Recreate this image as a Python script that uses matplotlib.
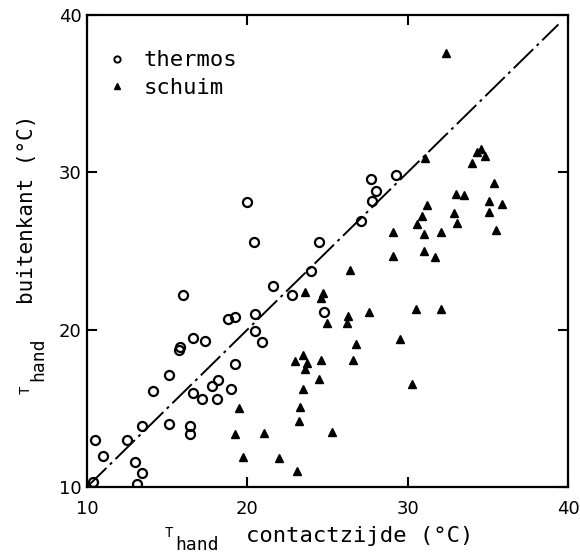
import matplotlib
matplotlib.use("Agg")
import matplotlib.pyplot as plt
from matplotlib.lines import Line2D

# ---- data ----
thermos_x = [10.4, 10.5, 11.0, 12.5, 13.4, 13.0, 13.4, 13.1, 14.1, 15.1, 15.1, 15.75, 15.8,
             16.6, 17.35, 16.6, 17.2, 16.4, 16.4, 17.8, 18.2, 18.1, 19.0, 19.2, 16.0, 18.8,
             19.2, 20.0, 20.4, 20.5, 20.9, 20.5, 21.6, 22.8, 24.0, 24.5, 27.1, 27.7, 28.0,
             27.8, 29.3, 24.8]
thermos_y = [10.3, 13.0, 12.0, 13.0, 13.9, 11.6, 10.9, 10.2, 16.1, 17.1, 14.0, 18.7, 18.9,
             19.5, 19.3, 16.0, 15.6, 13.4, 13.9, 16.4, 16.8, 15.6, 16.2, 17.8, 22.2, 20.7,
             20.8, 28.1, 25.6, 19.9, 19.2, 21.0, 22.8, 22.2, 23.7, 25.6, 26.9, 29.6, 28.8,
             28.2, 29.85, 21.1]

schuim_x = [19.45, 19.2, 19.7, 21.05, 22.0, 23.1, 23.2, 23.3, 23.5, 23.0, 23.45, 23.7, 23.6,
            24.45, 24.6, 25.3, 26.6, 26.75, 29.5, 30.3, 25.0, 26.3, 26.2, 27.6, 30.5, 32.1,
            24.6, 24.7, 23.6, 26.4, 29.1, 29.1, 31.0, 31.7, 31.0, 30.6, 30.9, 32.1, 31.2,
            32.9, 33.1, 33.0, 33.5, 35.1, 35.9, 35.1, 35.5, 35.4, 34.0, 34.3, 34.6, 34.8,
            31.1, 32.4]
schuim_y = [15.0, 13.35, 11.9, 13.45, 11.85, 11.0, 14.2, 15.1, 16.2, 18.0, 18.4, 17.9, 17.5,
            16.85, 18.1, 13.5, 18.1, 19.1, 19.4, 16.55, 20.4, 20.9, 20.4, 21.1, 21.3, 21.3,
            22.0, 22.3, 22.4, 23.8, 24.7, 26.2, 25.0, 24.6, 26.05, 26.7, 27.2, 26.2, 27.95,
            27.4, 26.8, 28.6, 28.55, 28.15, 28.0, 27.5, 26.35, 29.3, 30.6, 31.3, 31.5, 31.05,
            30.9, 37.6]

line_x = [10.0, 39.4]
line_y = [10.0, 39.4]

ticks = [10, 20, 30, 40]
tick_labels = ["10", "20", "30", "40"]
label_thermos = "thermos"
label_schuim = "schuim"

W, H = 580, 558
fig = plt.figure(figsize=(W / 100, H / 100), dpi=100)
ax = fig.add_axes([87 / W, 1 - 487 / H, (568 - 87) / W, (487 - 15) / H])

ax.plot(line_x, line_y, color="black", lw=1.4, linestyle=(0, (14, 2.5, 1.5, 2.5)))
ax.plot(thermos_x, thermos_y, linestyle="none", marker="o", ms=6.5, mfc="none",
        mec="black", mew=1.6)
ax.plot(schuim_x, schuim_y, linestyle="none", marker="^", ms=6, mfc="black", mec="black")

ax.set_xlim(10, 40)
ax.set_ylim(10, 40)
ax.set_xticks(ticks)
ax.set_yticks(ticks)
ax.set_xticklabels(tick_labels)
ax.set_yticklabels(tick_labels)
for s in ax.spines.values():
    s.set_linewidth(1.6)
ax.tick_params(direction="in", length=7, width=1.5, top=True, right=True,
               labelsize=13, colors="black")
ax.tick_params(axis="x", pad=9)
ax.tick_params(axis="y", pad=4)

mono = "DejaVu Sans Mono"
h1 = Line2D([], [], linestyle="none", marker="o", ms=4.5, mfc="none", mec="black", mew=1.4)
h2 = Line2D([], [], linestyle="none", marker="^", ms=4.5, mfc="black", mec="black")
ax.legend([h1, h2], [label_thermos, label_schuim], loc="upper left",
          bbox_to_anchor=(0.04, 0.925), borderaxespad=0, borderpad=0, frameon=False,
          handlelength=1.0, handletextpad=0.7, labelspacing=0.35,
          prop={"family": mono, "size": 16})

def ft(x, y, s, size, **kw):
    fig.text(x / W, 1 - y / H, s, fontsize=size, family=mono, **kw)

# x label
ft(165, 537, "T", 10, ha="left", va="baseline")
ft(175, 550, "hand", 13, ha="left", va="baseline")
ft(246, 542, "contactzijde (°C)", 16, ha="left", va="baseline")

# y label (rotated)
ft(30, 394, "T", 10, ha="left", va="baseline", rotation=90, rotation_mode="anchor")
ft(43, 381, "hand", 13, ha="left", va="baseline", rotation=90, rotation_mode="anchor")
ft(33, 304, "buitenkant (°C)", 15, ha="left", va="baseline", rotation=90, rotation_mode="anchor")

fig.savefig("out.png", dpi=100)
